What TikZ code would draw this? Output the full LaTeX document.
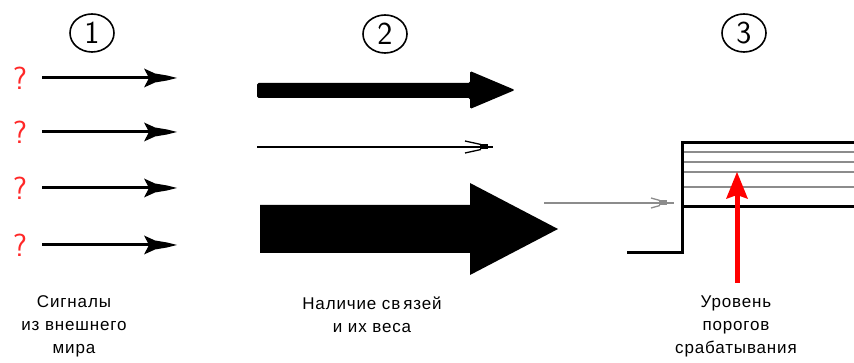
\documentclass[tikz,border=0pt]{standalone}
\usepackage{fontspec}
\setmainfont{Liberation Sans}
\newfontfamily\lblfont[LetterSpace=5]{Liberation Sans}
\usetikzlibrary{shapes.geometric}
\definecolor{qred}{RGB}{255,40,40}
\definecolor{lgray}{RGB}{140,140,140}
\definecolor{rred}{RGB}{255,0,0}
\begin{document}
\begin{tikzpicture}[x=1pt,y=-1pt,
  numc/.style={draw,ellipse,line width=1.6pt,minimum width=44pt,minimum height=38pt,inner sep=0pt,
    font=\sffamily\fontsize{32}{32}\selectfont},
  qmark/.style={text=qred,inner sep=0pt,font=\sffamily\fontsize{32}{32}\selectfont},
  lbl/.style={align=center,inner sep=0pt,font=\lblfont\fontsize{17}{23}\selectfont},
  sig/.style={line width=3pt},
  thinarr/.style={line width=1.3pt},
  step3/.style={line width=3pt},
  level/.style={lgray,line width=2.4pt}]
\useasboundingbox (0,0) rectangle (854,363);
\fill[white] (0,0) rectangle (854,363);

% column headers
\node[numc] (n1) at (92,33) {1};
\node[numc] (n2) at (385,34) {2};
\node[numc] (n3) at (744,33) {3};

% column 1: signals
\foreach \y [count=\i] in {78,132,188,245} {
  \node[qmark] (q\i) at (20,\y) {?};
  \coordinate (s\i) at (42,\y);
  \coordinate (t\i) at (177,\y);
  \draw[sig] (s\i) -- ([xshift=-22pt]t\i);
  \fill (t\i) -- ++(-10,-2.5) -- ++(-12,-2) -- ++(-11,-5) -- ++(5,9.5)
        -- ++(-5,9.5) -- ++(11,-5) -- ++(12,-2) -- cycle;
}

% column 2: weights
\fill[rounded corners=1.5pt] (257,83) -- (470,83) -- (470,71) -- (515,90) -- (470,109) -- (470,98) -- (257,98) -- cycle;

\coordinate (bs) at (257,147);
\coordinate (bt) at (493,147);
\draw[thinarr] (bs) -- (bt);
\draw[thinarr] (465,141) -- (481,144.5);
\draw[thinarr] (465,153) -- (481,149.5);
\fill (480,144.5) rectangle (488,149.5);

\fill (260,205) -- (470,205) -- (470,183) -- (558,229) -- (470,275) -- (470,253) -- (260,253) -- cycle;

% column 3: thresholds
\coordinate (gs) at (544,203);
\coordinate (gt) at (674,203);
\draw[lgray,line width=1.3pt] (gs) -- (gt);
\draw[lgray,line width=1.3pt] (651,198) -- (660,200.5);
\draw[lgray,line width=1.3pt] (651,208) -- (660,205.5);
\fill[lgray] (659,200.5) rectangle (667,205.5);

\foreach \y in {152,162,172,187} {
  \draw[level] (683.5,\y) -- (856,\y);
}
\draw[step3] (627,253) -- (682,253) -- (682,143) -- (856,143);
\draw[step3] (682,207) -- (856,207);

\coordinate (rs) at (737,283);
\coordinate (rt) at (737,172);
\draw[rred,line width=5pt] (rs) -- (737,194);
\fill[rred] (rt) -- (726,199) -- (737,195) -- (748,199) -- cycle;

% labels
\node[lbl] (l1) at (74,326) {Сигналы\\из внешнего\\мира};
\node[lbl] (l2) at (372,315) {Наличие св\kern3pt язей\\и их веса};
\node[lbl] (l3) at (736,326) {Уровень\\порогов\\срабатывания};
\end{tikzpicture}
\end{document}
